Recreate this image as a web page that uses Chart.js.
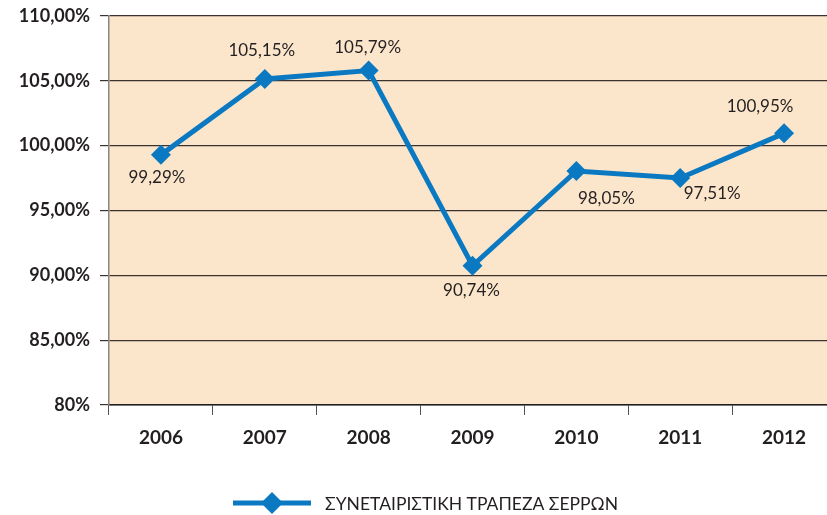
<!DOCTYPE html>
<html>
<head>
<meta charset="utf-8">
<script src="https://cdn.jsdelivr.net/npm/chart.js@4.4.1/dist/chart.umd.min.js"></script>
<style>
  html, body { margin: 0; padding: 0; background: #fff; overflow: hidden; }
  body { width: 827px; height: 515px; }
  #wrap { width: 846px; height: 515px; }
</style>
</head>
<body>
<div id="wrap"><canvas id="chart"></canvas></div>
<script>
const years = ['2006', '2007', '2008', '2009', '2010', '2011', '2012']
const ratio = [99.29, 105.15, 105.79, 90.74, 98.05, 97.51, 100.95]
const seriesName = 'ΣΥΝΕΤΑΙΡΙΣΤΙΚΗ ΤΡΑΠΕΖΑ ΣΕΡΡΩΝ'
const yMin = 80
const yMax = 110
const yStep = 5

// where each value label sits relative to its point
const labelOffsets = [[-4, 23], [-3, -28], [-1, -23], [-1, 25], [30, 28], [32, 16], [-24, -27]]

const blue = '#0a79c1'
const fmt = v => v.toFixed(2).replace('.', ',') + '%'

const plotBackground = {
  id: 'plotBackground',
  beforeDraw(chart) {
    const { ctx, chartArea: a } = chart
    ctx.save()
    ctx.fillStyle = '#fbe6cc'
    ctx.fillRect(a.left, a.top, a.right - a.left, a.bottom - a.top)
    ctx.restore()
  }
}

const valueLabels = {
  id: 'valueLabels',
  afterDatasetsDraw(chart) {
    const { ctx } = chart
    const meta = chart.getDatasetMeta(0)
    ctx.save()
    ctx.font = '17px Lato, "Open Sans", sans-serif'
    ctx.fillStyle = '#231f20'
    ctx.textAlign = 'center'
    ctx.textBaseline = 'middle'
    meta.data.forEach((pt, i) => {
      const [dx, dy] = labelOffsets[i]
      ctx.fillText(fmt(ratio[i]), pt.x + dx, pt.y + dy)
    })
    ctx.restore()
  }
}

const lineLegend = {
  id: 'lineLegend',
  afterDraw(chart) {
    const { ctx } = chart
    const y = 503
    ctx.save()
    ctx.strokeStyle = blue
    ctx.lineWidth = 5
    ctx.beginPath()
    ctx.moveTo(233, y)
    ctx.lineTo(311, y)
    ctx.stroke()
    ctx.fillStyle = blue
    ctx.beginPath()
    ctx.moveTo(272, y - 11)
    ctx.lineTo(283, y)
    ctx.lineTo(272, y + 11)
    ctx.lineTo(261, y)
    ctx.closePath()
    ctx.fill()
    ctx.font = '17.5px Lato, "Open Sans", sans-serif'
    ctx.fillStyle = '#231f20'
    ctx.textBaseline = 'middle'
    ctx.fillText(seriesName, 325, y + 1)
    ctx.restore()
  }
}

new Chart(document.getElementById('chart'), {
  type: 'line',
  data: {
    labels: years,
    datasets: [{
      label: seriesName,
      data: ratio,
      borderColor: blue,
      backgroundColor: blue,
      borderWidth: 5,
      pointStyle: 'rectRot',
      pointRadius: 10,
      pointHoverRadius: 10,
      pointBorderWidth: 0,
      tension: 0
    }]
  },
  options: {
    responsive: true,
    maintainAspectRatio: false,
    animation: false,
    layout: { padding: { top: 16, right: 0, bottom: 50, left: 0 } },
    plugins: {
      legend: { display: false },
      tooltip: { enabled: false }
    },
    scales: {
      x: {
        offset: true,
        grid: {
          offset: true,
          drawOnChartArea: false,
          drawTicks: true,
          tickLength: 10,
          color: '#555'
        },
        border: { color: '#231f20', width: 1.5 },
        ticks: {
          color: '#231f20',
          padding: 11,
          font: { family: 'Lato, "Open Sans", sans-serif', size: 19, weight: 'bold' }
        },
        afterFit(scale) { scale.height = 60 }
      },
      y: {
        min: yMin,
        max: yMax,
        ticks: {
          stepSize: yStep,
          color: '#231f20',
          padding: 10,
          font: { family: 'Lato, "Open Sans", sans-serif', size: 18, weight: 'bold' },
          callback: v => v === yMin ? v + '%' : fmt(v)
        },
        grid: {
          color: '#3a3330',
          lineWidth: 1.2,
          tickLength: 9
        },
        border: { color: '#8a8580', width: 1.5 },
        afterFit(scale) {
          scale.width = 109
          scale.paddingTop = 0
          scale.paddingBottom = 0
        }
      }
    }
  },
  plugins: [plotBackground, valueLabels, lineLegend]
})
</script>
</body>
</html>
